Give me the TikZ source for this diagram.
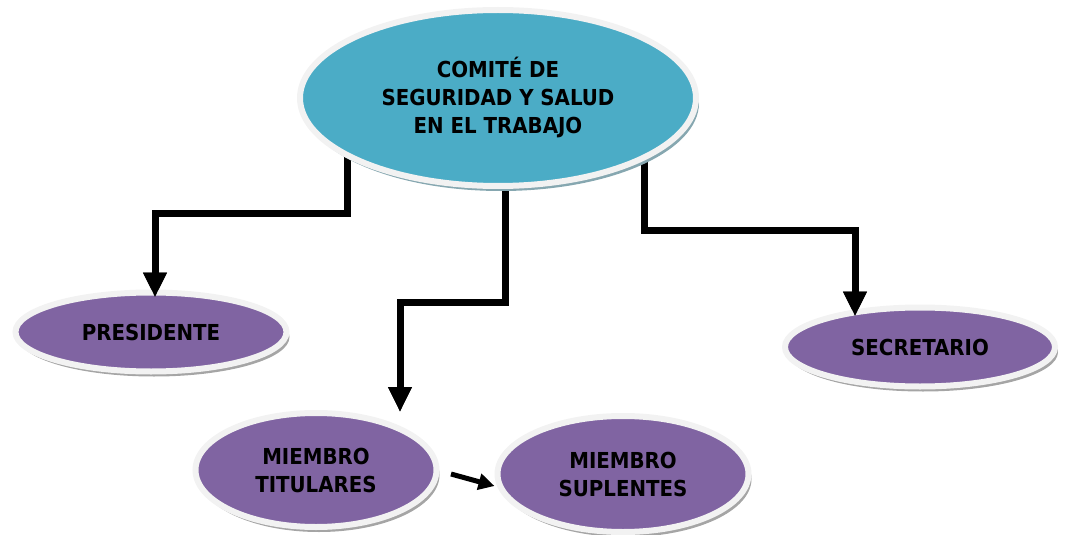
\documentclass[tikz,border=0pt]{standalone}
\usepackage{fontspec}
\setmainfont{DejaVu Sans Condensed}
\usetikzlibrary{shapes.geometric,arrows.meta,shadows,backgrounds}
\definecolor{teal1}{HTML}{4BACC6}
\definecolor{purp}{HTML}{8064A2}
\definecolor{rim}{HTML}{F2F2F2}
\definecolor{tshad}{HTML}{86A7B0}
\definecolor{pshad}{HTML}{A5A5A5}
\begin{document}
\begin{tikzpicture}[x=0.5pt,y=-0.5pt,
  bub/.style={ellipse,draw=rim,line width=3pt,inner sep=0pt,align=center,
    font=\bfseries\fontsize{11}{14}\selectfont},
  tealbub/.style={bub,fill=teal1,drop shadow={shadow xshift=1.5pt,shadow yshift=-2.5pt,fill=tshad,opacity=1}},
  purpbub/.style={bub,fill=purp,drop shadow={shadow xshift=1.5pt,shadow yshift=-2.5pt,fill=pshad,opacity=1}},
  conn/.style={line width=3.5pt,-{Triangle[width=11pt,length=12.5pt]}},
  sconn/.style={line width=2.5pt,-{Triangle[width=8pt,length=8pt]}}]
\useasboundingbox (0,0) rectangle (1066,535);
\node[tealbub,minimum width=198pt,minimum height=88pt] (top) at (498,98)
  {COMITÉ DE\\SEGURIDAD Y SALUD\\EN EL TRABAJO};
\node[purpbub,minimum width=135.5pt,minimum height=39.5pt] (pres) at (151,332) {PRESIDENTE};
\node[purpbub,minimum width=135pt,minimum height=39.5pt] (sec) at (920,347) {SECRETARIO};
\node[purpbub,minimum width=120.5pt,minimum height=57pt] (tit) at (316,470) {MIEMBRO\\TITULARES};
\node[purpbub,minimum width=125.5pt,minimum height=58pt] (sup) at (623,474) {MIEMBRO\\SUPLENTES};
\coordinate (b1) at (155,213);
\coordinate (b2) at (400,302);
\coordinate (b3) at (855,230);
\coordinate (e1) at ([xshift=2pt,yshift=-4pt]pres.north);
\coordinate (e2) at ([xshift=42pt,yshift=-1pt]tit.north);
\coordinate (e3) at ([xshift=-32.5pt,yshift=-6pt]sec.north);
\begin{pgfonlayer}{background}
\draw[conn] ([xshift=-75.5pt]top.center) |- (b1) -- (e1);
\draw[conn] ([xshift=3.5pt]top.center) |- (b2) -- (e2);
\draw[conn] ([xshift=73pt]top.center) |- (b3) -- (e3);
\end{pgfonlayer}
\draw[conn] (b1) -- (e1);
\draw[conn] (b2) -- (e2);
\draw[conn] (b3) -- (e3);
\draw[sconn] ([xshift=5.75pt,yshift=-2pt]tit.east) -- ([yshift=-6pt]sup.west);
\end{tikzpicture}
\end{document}
